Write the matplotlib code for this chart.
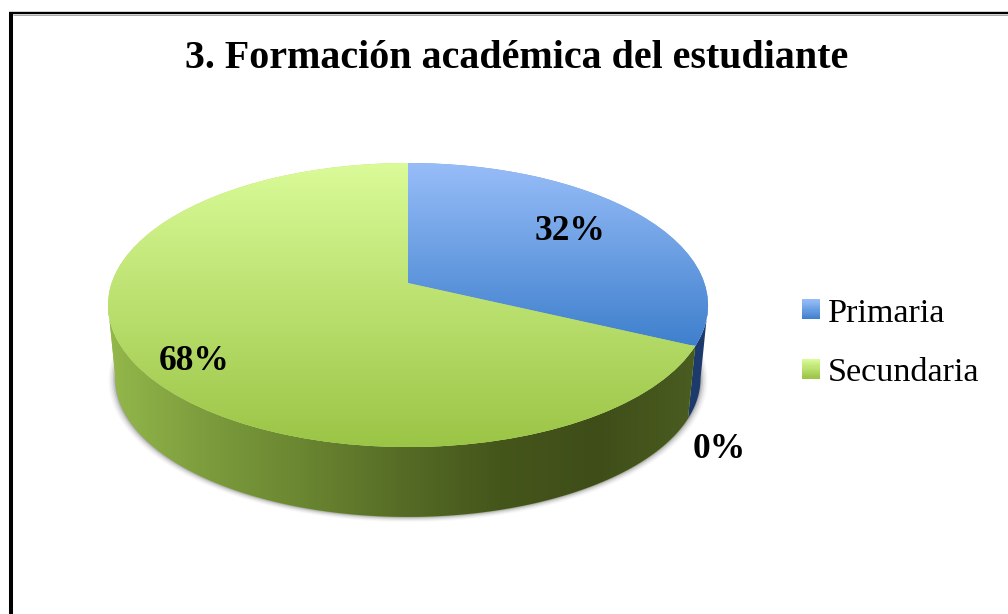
import numpy as np
import matplotlib
matplotlib.use("Agg")
import matplotlib.pyplot as plt
from matplotlib.colors import LinearSegmentedColormap as LSC
from matplotlib.legend_handler import HandlerBase
from matplotlib.patches import Polygon, Rectangle
from matplotlib.transforms import Transform

categories = ["Primaria", "Secundaria", ""]
values = [32, 68, 0]
title = "3. Formación académica del estudiante"

FONT = "Liberation Serif"
TOP_COLORS = [["#97bdf8", "#3f80cd"], ["#dafb98", "#9bc546"]]
LEG_COLORS = [["#97bdf8", "#3f80cd"], ["#dafb98", "#9bc546"]]
SIDE_BLUE = ["#1c3a6c", "#1f4278"]
SIDE_GREEN = ["#94b84b", "#7c9c3d", "#6a8631", "#566c26", "#45561b", "#3f4e19", "#4a5c20"]


class Persp(Transform):
    """Perspective view of the unit circle, in pixel coordinates."""
    input_dims = output_dims = 2
    has_inverse = False
    is_affine = False

    def __init__(self, a=296.4, b=138.6, k=0.155, cx=408.0, cy=283.0):
        super().__init__()
        self.a, self.b, self.k, self.cx, self.cy = a, b, k, cx, cy

    def transform_non_affine(self, v):
        v = np.asarray(v, float)
        w = 1 + self.k * v[:, 1]
        return np.column_stack([self.cx + self.a * v[:, 0] / w,
                                self.cy - self.b * v[:, 1] / w])


fig = plt.figure(figsize=(10.08, 6.14), dpi=100, facecolor="white")
ax = fig.add_axes([0, 0, 1, 1])
top = Persp()
bot = Persp(a=296.4 * 0.975, b=138.6 * 0.975, cy=357.0)

wedges, _ = ax.pie(values, startangle=90, counterclock=False,
                   colors=["#6a9de2", "#bcdf70", "#6a9de2"], radius=1,
                   wedgeprops=dict(linewidth=0, zorder=5))
ax.set_aspect("auto")
ax.set_xlim(0, 1008)
ax.set_ylim(614, 0)
ax.set_axis_off()
ax.set_frame_on(False)
ax.set_autoscale_on(False)


def unit(t):
    r = np.radians(t)
    return np.column_stack([np.cos(r), np.sin(r)])


def vgrad(colors, y0, y1, z, clip):
    im = ax.imshow(np.linspace(0, 1, 256)[:, None], extent=(0, 1008, y1, y0),
                   cmap=LSC.from_list("g", colors), aspect="auto", zorder=z,
                   interpolation="bilinear")
    im.set_clip_path(clip)


# soft shadow below the side wall
full = np.linspace(0, 360, 361)
rim = bot.transform(unit(full))
for grow, al in [(7, .03), (5.5, .05), (4, .08), (2.5, .12), (1, .2)]:
    c = np.array([406.0, 380.0])
    ax.add_patch(Polygon(c + (rim - c) * (1 + grow / 290) + [0, grow * .25], closed=True,
                         fc="#303030", ec="none", alpha=al, zorder=1))

# side wall, one strip per visible wedge
vis0, vis1 = -171.1, -8.9
for w, cols in zip(wedges[:2], [SIDE_BLUE, SIDE_GREEN]):
    t0, t1 = max(w.theta1, vis0), min(w.theta2, vis1)
    th = np.linspace(t0, t1, 200)
    poly = Polygon(np.vstack([top.transform(unit(th)), bot.transform(unit(th))[::-1]]),
                   closed=True, fc=cols[0], ec="none", zorder=2, transform=ax.transData)
    ax.add_patch(poly)
    if cols is SIDE_GREEN:
        im = ax.imshow(np.linspace(0, 1, 512)[None, :], extent=(107, 695, 614, 0),
                       cmap=LSC.from_list("s", cols), aspect="auto", zorder=3)
        im.set_clip_path(poly)
ax.set_xlim(0, 1008)
ax.set_ylim(614, 0)

# top faces
for w, cols, y1 in zip(wedges[:2], TOP_COLORS, [345, 447]):
    w.set_transform(top + ax.transData)
    vgrad(cols, 163, y1, 6, w)
wedges[2].set_visible(False)
ax.set_xlim(0, 1008)
ax.set_ylim(614, 0)

# value labels
for v, (x, y) in zip(values, [(570, 232), (194, 361), (719, 450)]):
    ax.text(x, y, f"{v}%", ha="center", va="center", fontsize=25.5, fontweight="bold",
            family=FONT, color="black", zorder=10)

ax.text(517, 59, title, ha="center", va="center", fontsize=28.8, fontweight="bold",
        family=FONT, color="black", zorder=10)


class GradHandle(HandlerBase):
    def create_artists(self, legend, orig, xd, yd, width, height, fontsize, trans):
        cmap = LSC.from_list("l", orig.get_gid().split(","))
        n = 18
        return [Rectangle((-xd, -yd + height * (n - 1 - i) / n), width, height / n * 1.1,
                          fc=cmap(i / (n - 1)), ec="none", transform=trans) for i in range(n)]


handles = []
for cols in LEG_COLORS:
    r = Rectangle((0, 0), 1, 1)
    r.set_gid(",".join(cols))
    handles.append(r)

FS = 24.6
px = FS * 100 / 72
leg = ax.legend(handles, categories[:2], handler_map={Rectangle: GradHandle()},
                loc="upper left", bbox_to_anchor=(802, 298), bbox_transform=ax.transData,
                frameon=False, borderpad=0, borderaxespad=0, fontsize=FS,
                prop=dict(family=FONT, size=FS), handlelength=18 / px, handleheight=18 / px,
                handletextpad=8 / px, labelspacing=(63 - px) / px)
leg.set_zorder(10)

# frame of the picture: left and top rules only
ax.plot([11, 11], [12, 614], color="black", lw=2.9, solid_capstyle="butt", zorder=12)
ax.plot([9, 1008], [13.3, 13.3], color="black", lw=1.7, solid_capstyle="butt", zorder=12)
ax.plot([13, 1008], [14.6, 14.6], color="#999999", lw=.6, solid_capstyle="butt", zorder=11)

fig.savefig("out.png", dpi=100, facecolor="white")
